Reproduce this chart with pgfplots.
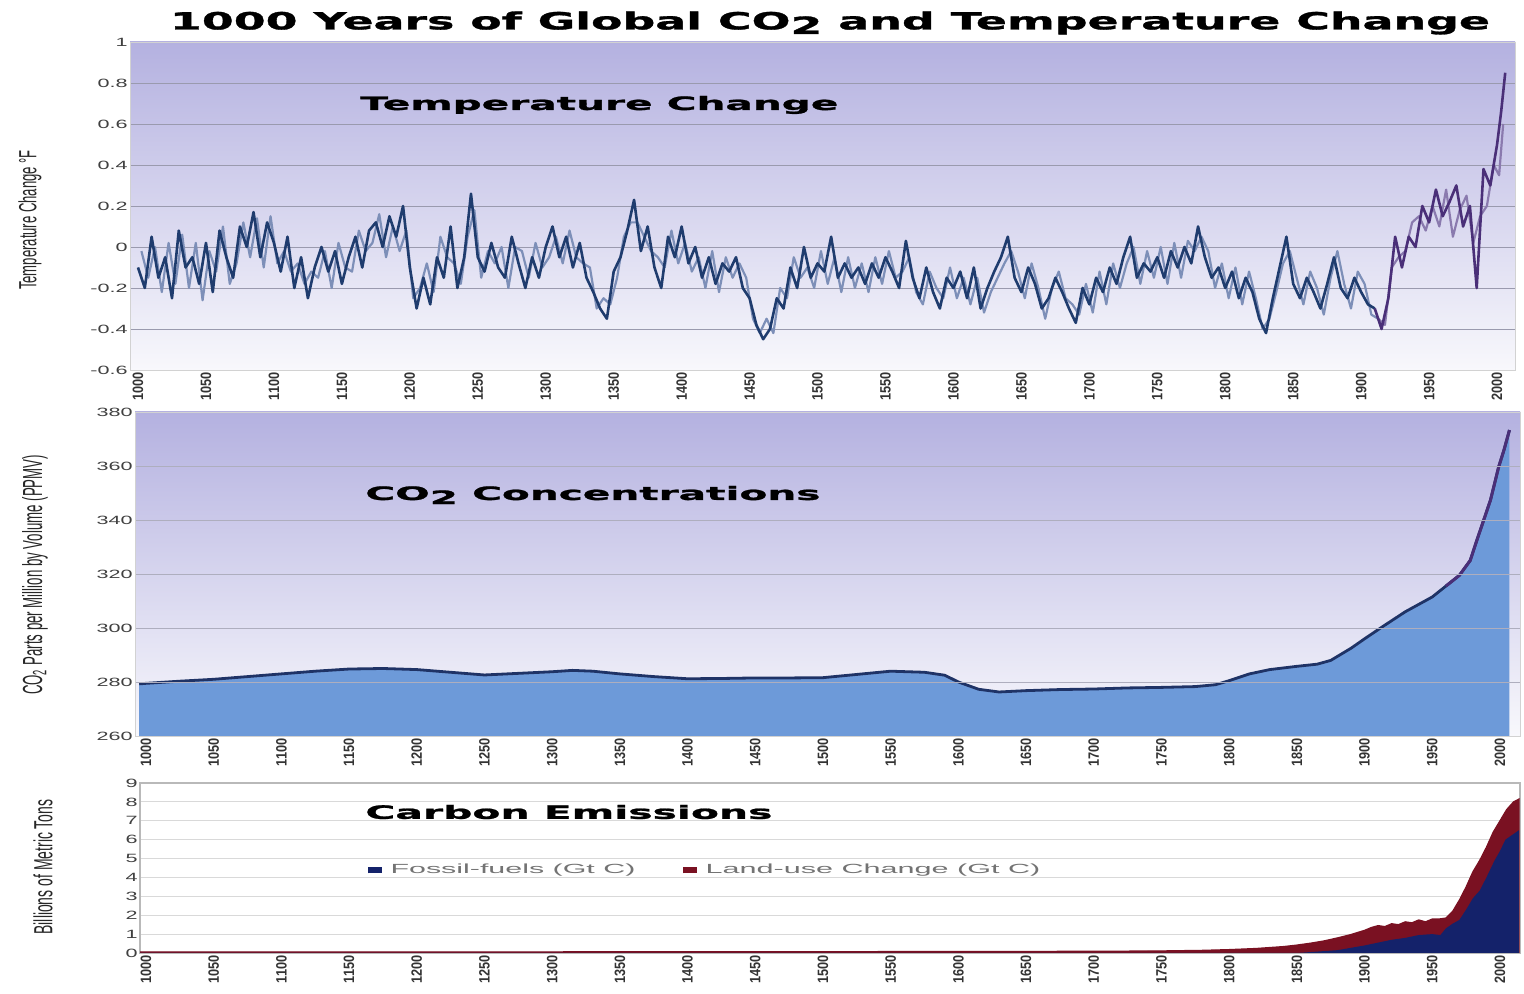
\documentclass[border=0pt]{standalone}
\usepackage{fontspec}
\setmainfont{Liberation Sans}
\newfontfamily\widefont{DejaVu Sans}[FakeStretch=1.5, BoldFeatures={FakeBold=1.2}]
\newfontfamily\condfont{Liberation Sans}[FakeStretch=0.85]
\newfontfamily\extfont{Liberation Sans}[FakeStretch=1.8]
\usepackage{graphicx}
\usepackage{pgfplots}
\pgfplotsset{compat=1.18}
\definecolor{tnavy}{HTML}{1F3C6E}
\definecolor{tlight}{HTML}{7D8FB8}
\definecolor{tpurple}{HTML}{4A2F78}
\definecolor{tlpurple}{HTML}{8A7AAE}
\definecolor{co2fill}{HTML}{6D9AD9}
\definecolor{co2line}{HTML}{1F3366}
\definecolor{fossil}{HTML}{14226A}
\definecolor{landuse}{HTML}{7A1122}
\definecolor{bgtop}{HTML}{B4B1E0}
\definecolor{bgmid}{HTML}{D3D1ED}
\definecolor{bgbot}{HTML}{F8F8FC}
\definecolor{gridc}{HTML}{9A9AAE}
\pgfplotstableread{
x y
1000 -0.10
1005 -0.20
1010 0.05
1015 -0.15
1020 -0.05
1025 -0.25
1030 0.08
1035 -0.10
1040 -0.05
1045 -0.18
1050 0.02
1055 -0.22
1060 0.08
1065 -0.05
1070 -0.15
1075 0.10
1080 0.00
1085 0.17
1090 -0.05
1095 0.12
1100 0.02
1105 -0.12
1110 0.05
1115 -0.20
1120 -0.05
1125 -0.25
1130 -0.10
1135 0.00
1140 -0.12
1145 -0.02
1150 -0.18
1155 -0.05
1160 0.05
1165 -0.10
1170 0.08
1175 0.12
1180 0.00
1185 0.15
1190 0.05
1195 0.20
1200 -0.10
1205 -0.30
1210 -0.15
1215 -0.28
1220 -0.05
1225 -0.15
1230 0.10
1235 -0.20
1240 -0.05
1245 0.26
1250 -0.05
1255 -0.12
1260 0.02
1265 -0.10
1270 -0.15
1275 0.05
1280 -0.08
1285 -0.20
1290 -0.05
1295 -0.15
1300 0.00
1305 0.10
1310 -0.05
1315 0.05
1320 -0.10
1325 0.02
1330 -0.15
1335 -0.22
1340 -0.30
1345 -0.35
1350 -0.12
1355 -0.05
1360 0.08
1365 0.23
1370 -0.02
1375 0.10
1380 -0.10
1385 -0.20
1390 0.05
1395 -0.05
1400 0.10
1405 -0.08
1410 0.00
1415 -0.15
1420 -0.05
1425 -0.18
1430 -0.08
1435 -0.12
1440 -0.05
1445 -0.20
1450 -0.25
1455 -0.38
1460 -0.45
1465 -0.40
1470 -0.25
1475 -0.30
1480 -0.10
1485 -0.20
1490 0.00
1495 -0.15
1500 -0.08
1505 -0.12
1510 0.05
1515 -0.15
1520 -0.08
1525 -0.15
1530 -0.10
1535 -0.18
1540 -0.08
1545 -0.15
1550 -0.05
1555 -0.12
1560 -0.20
1565 0.03
1570 -0.15
1575 -0.25
1580 -0.10
1585 -0.22
1590 -0.30
1595 -0.15
1600 -0.20
1605 -0.12
1610 -0.25
1615 -0.10
1620 -0.30
1625 -0.20
1630 -0.12
1635 -0.05
1640 0.05
1645 -0.15
1650 -0.22
1655 -0.10
1660 -0.18
1665 -0.30
1670 -0.25
1675 -0.15
1680 -0.22
1685 -0.30
1690 -0.37
1695 -0.20
1700 -0.28
1705 -0.15
1710 -0.22
1715 -0.10
1720 -0.18
1725 -0.05
1730 0.05
1735 -0.15
1740 -0.08
1745 -0.12
1750 -0.05
1755 -0.15
1760 -0.02
1765 -0.10
1770 0.00
1775 -0.08
1780 0.10
1785 -0.05
1790 -0.15
1795 -0.10
1800 -0.20
1805 -0.12
1810 -0.25
1815 -0.15
1820 -0.22
1825 -0.35
1830 -0.42
1835 -0.25
1840 -0.10
1845 0.05
1850 -0.18
1855 -0.25
1860 -0.15
1865 -0.22
1870 -0.30
1875 -0.18
1880 -0.05
1885 -0.20
1890 -0.25
1895 -0.15
1900 -0.22
1905 -0.28
1910 -0.30
}\tempA
\pgfplotstableread{
x y
1910 -0.30
1915 -0.40
1920 -0.25
1925 0.05
1930 -0.10
1935 0.05
1940 0.00
1945 0.20
1950 0.12
1955 0.28
1960 0.15
1965 0.22
1970 0.30
1975 0.10
1980 0.20
1985 -0.20
1990 0.38
1995 0.30
2000 0.50
2003 0.66
2006 0.85
}\tempB
\pgfplotstableread{
x y
1002.5 -0.02
1007.5 -0.15
1012.5 0.00
1017.5 -0.22
1022.5 0.02
1027.5 -0.18
1032.5 0.06
1037.5 -0.20
1042.5 0.02
1047.5 -0.26
1052.5 -0.02
1057.5 -0.12
1062.5 0.10
1067.5 -0.18
1072.5 -0.08
1077.5 0.12
1082.5 -0.05
1087.5 0.14
1092.5 -0.10
1097.5 0.15
1102.5 -0.08
1107.5 -0.02
1112.5 -0.12
1117.5 -0.08
1122.5 -0.18
1127.5 -0.12
1132.5 -0.15
1137.5 -0.02
1142.5 -0.20
1147.5 0.02
1152.5 -0.10
1157.5 -0.12
1162.5 0.08
1167.5 -0.02
1172.5 0.02
1177.5 0.16
1182.5 -0.05
1187.5 0.10
1192.5 -0.02
1197.5 0.08
1202.5 -0.25
1207.5 -0.20
1212.5 -0.08
1217.5 -0.22
1222.5 0.05
1227.5 -0.05
1232.5 -0.08
1237.5 -0.18
1242.5 0.05
1247.5 0.18
1252.5 -0.15
1257.5 -0.02
1262.5 -0.08
1267.5 0.00
1272.5 -0.20
1277.5 0.00
1282.5 -0.02
1287.5 -0.15
1292.5 0.02
1297.5 -0.10
1302.5 -0.05
1307.5 0.05
1312.5 -0.08
1317.5 0.08
1322.5 -0.05
1327.5 -0.08
1332.5 -0.10
1337.5 -0.30
1342.5 -0.25
1347.5 -0.28
1352.5 -0.15
1357.5 0.05
1362.5 0.12
1367.5 0.12
1372.5 0.05
1377.5 -0.02
1382.5 -0.05
1387.5 -0.10
1392.5 0.08
1397.5 -0.08
1402.5 0.02
1407.5 -0.12
1412.5 -0.05
1417.5 -0.20
1422.5 -0.02
1427.5 -0.22
1432.5 -0.05
1437.5 -0.15
1442.5 -0.08
1447.5 -0.15
1452.5 -0.35
1457.5 -0.42
1462.5 -0.35
1467.5 -0.42
1472.5 -0.20
1477.5 -0.25
1482.5 -0.05
1487.5 -0.15
1492.5 -0.10
1497.5 -0.20
1502.5 -0.02
1507.5 -0.18
1512.5 -0.05
1517.5 -0.22
1522.5 -0.05
1527.5 -0.20
1532.5 -0.08
1537.5 -0.22
1542.5 -0.05
1547.5 -0.18
1552.5 -0.02
1557.5 -0.15
1562.5 -0.12
1567.5 -0.05
1572.5 -0.22
1577.5 -0.28
1582.5 -0.12
1587.5 -0.20
1592.5 -0.25
1597.5 -0.10
1602.5 -0.25
1607.5 -0.15
1612.5 -0.28
1617.5 -0.15
1622.5 -0.32
1627.5 -0.22
1632.5 -0.15
1637.5 -0.08
1642.5 -0.02
1647.5 -0.12
1652.5 -0.25
1657.5 -0.08
1662.5 -0.20
1667.5 -0.35
1672.5 -0.20
1677.5 -0.12
1682.5 -0.25
1687.5 -0.28
1692.5 -0.33
1697.5 -0.18
1702.5 -0.32
1707.5 -0.12
1712.5 -0.28
1717.5 -0.08
1722.5 -0.20
1727.5 -0.08
1732.5 0.00
1737.5 -0.18
1742.5 -0.02
1747.5 -0.15
1752.5 0.00
1757.5 -0.18
1762.5 0.02
1767.5 -0.15
1772.5 0.03
1777.5 -0.02
1782.5 0.05
1787.5 -0.02
1792.5 -0.20
1797.5 -0.08
1802.5 -0.25
1807.5 -0.10
1812.5 -0.28
1817.5 -0.12
1822.5 -0.25
1827.5 -0.40
1832.5 -0.35
1837.5 -0.22
1842.5 -0.08
1847.5 -0.02
1852.5 -0.15
1857.5 -0.28
1862.5 -0.12
1867.5 -0.20
1872.5 -0.33
1877.5 -0.15
1882.5 -0.02
1887.5 -0.18
1892.5 -0.30
1897.5 -0.12
1902.5 -0.18
1907.5 -0.33
1912.5 -0.35
}\tempLA
\pgfplotstableread{
x y
1912.5 -0.35
1917.5 -0.38
1922.5 -0.10
1927.5 -0.05
1932.5 -0.02
1937.5 0.12
1942.5 0.15
1947.5 0.08
1952.5 0.20
1957.5 0.10
1962.5 0.28
1967.5 0.05
1972.5 0.18
1977.5 0.25
1982.5 0.02
1987.5 0.15
1992.5 0.20
1997.5 0.40
2001.5 0.35
2004.5 0.60
}\tempLB
\pgfplotstableread{
x y
995 279.3
1000 279.5
1025 280.3
1050 281.0
1075 282.0
1100 283.0
1125 284.0
1150 284.8
1175 285.0
1200 284.6
1225 283.6
1250 282.6
1275 283.2
1300 283.8
1315 284.3
1330 284.0
1350 283.0
1375 282.0
1400 281.2
1425 281.3
1450 281.5
1475 281.5
1500 281.6
1525 282.8
1550 284.0
1575 283.6
1590 282.5
1600 280.0
1615 277.3
1630 276.3
1650 276.8
1675 277.2
1700 277.4
1725 277.8
1750 278.0
1775 278.3
1790 279.0
1800 280.5
1815 283.0
1830 284.6
1850 285.8
1865 286.6
1875 288.0
1890 292.5
1900 296.0
1913 300.4
1930 306.0
1950 311.5
1960 315.5
1970 319.5
1978 325.0
1983 332.6
1988 340.0
1993 347.4
1999 359.6
2003 366.0
2007 373.3
}\cotwo
\pgfplotstableread{
x y
1960 315.5
1970 319.5
1978 325.0
1983 332.6
1988 340.0
1993 347.4
1999 359.6
2003 366.0
2007 373.3
}\cotwoB
\pgfplotstableread{
x y
995 0.06
1100 0.06
1200 0.06
1300 0.06
1400 0.07
1500 0.07
1600 0.08
1700 0.09
1750 0.11
1780 0.14
1800 0.18
1820 0.24
1840 0.34
1850 0.42
1860 0.52
1870 0.64
1880 0.80
1890 0.98
1900 1.20
1905 1.35
1910 1.45
1915 1.40
1920 1.55
1925 1.50
1930 1.65
1935 1.60
1940 1.75
1945 1.65
1950 1.80
1955 1.80
1960 1.85
1965 2.20
1970 2.80
1975 3.50
1980 4.30
1985 4.90
1990 5.60
1995 6.40
2000 7.00
2005 7.60
2010 8.00
2014 8.15
}\total
\pgfplotstableread{
x y
995 0.0
1850 0.0
1860 0.05
1880 0.15
1900 0.40
1910 0.55
1920 0.70
1930 0.80
1940 0.95
1950 1.00
1956 0.95
1960 1.30
1965 1.55
1970 1.75
1975 2.30
1980 2.90
1985 3.30
1990 4.00
1996 4.90
2000 5.40
2004 6.00
2010 6.30
2014 6.50
}\fossilT
\pgfplotsset{
  panel/.style={
    scale only axis,
    xtick={1000,1050,...,2000},
    xticklabels={1000,1050,1100,1150,1200,1250,1300,1350,1400,1450,1500,1550,1600,1650,1700,1750,1800,1850,1900,1950,2000},
    xticklabel style={rotate=90, anchor=east, inner sep=1pt, font=\condfont\bfseries\fontsize{7.5pt}{8pt}\selectfont, text=black!80},
    yticklabel style={font=\extfont\fontsize{6pt}{7pt}\selectfont, text=black!75, inner sep=1pt},
    major tick length=0pt,
    ymajorgrids,
    major grid style={gridc, line width=0.4pt},
    axis line style={draw=gray!35, line width=0.4pt},
  }
}
\begin{document}
\begin{tikzpicture}
\path[use as bounding box] (0,0) rectangle (762pt,497pt);
% Panel 1
\begin{axis}[panel, at={(65pt,312pt)}, anchor=south west, width=692.5pt, height=164pt,
  xmin=994.1, xmax=2013.2, ymin=-0.6, ymax=1,
  ytick={-0.6,-0.4,-0.2,0,0.2,0.4,0.6,0.8,1},
  yticklabels={-0.6,-0.4,-0.2,0,0.2,0.4,0.6,0.8,1},
  axis background/.style={shade, top color=bgtop, middle color=bgmid, bottom color=bgbot}]
\addplot[tlight, line width=1.1pt, line join=round] table {\tempLA};
\addplot[tlpurple, line width=1.1pt, line join=round] table {\tempLB};
\addplot[tnavy, line width=1.3pt, line join=round] table {\tempA};
\addplot[tpurple, line width=1.3pt, line join=round] table {\tempB};
\end{axis}
% Panel 2
\begin{axis}[panel, at={(67.5pt,129pt)}, anchor=south west, width=692.5pt, height=162pt,
  xmin=991.9, xmax=2014.8, ymin=260, ymax=380, axis on top,
  ytick={260,280,300,320,340,360,380},
  yticklabels={260,280,300,320,340,360,380},
  major grid style={gridc!80, line width=0.4pt},
  axis background/.style={shade, top color=bgtop, middle color=bgmid!80!white, bottom color=bgbot}]
\addplot[draw=none, fill=co2fill] table {\cotwo} \closedcycle;
\addplot[co2line, line width=1.4pt] table {\cotwo};
\addplot[tpurple, line width=1.5pt] table {\cotwoB};
\end{axis}
% Panel 3
\begin{axis}[panel, at={(70pt,20.5pt)}, anchor=south west, width=690pt, height=85pt,
  xmin=995.6, xmax=2014.8, ymin=0, ymax=9,
  ytick={0,1,...,9},
  yticklabels={0,1,2,3,4,5,6,7,8,9},
  major grid style={gray!30, line width=0.5pt},
  axis line style={draw=gray!55, line width=0.6pt}]
\addplot[draw=landuse, fill=landuse, line width=0.6pt] table {\total} \closedcycle;
\addplot[draw=none, fill=fossil] table {\fossilT} \closedcycle;
\end{axis}
% Texts
\node at (415pt,485.5pt) {\resizebox{660pt}{9pt}{\widefont\bfseries 1000 Years of Global CO\raisebox{-0.35ex}{2} and Temperature Change}};
\node[anchor=west, inner sep=0pt] at (180pt,444.5pt) {\resizebox{239pt}{7pt}{\widefont\bfseries Temperature Change}};
\node[anchor=west, inner sep=0pt] at (182.5pt,249.5pt) {\resizebox{227.5pt}{7pt}{\widefont\bfseries CO\raisebox{-0.4ex}{2} Concentrations}};
\node[anchor=west, inner sep=0pt] at (182.5pt,91pt) {\resizebox{203.5pt}{7pt}{\widefont\bfseries Carbon Emissions}};
\node[anchor=west, inner sep=0pt, text=black!55] at (184pt,62pt) {\resizebox{133.5pt}{4.8pt}{{\color{fossil}\rule{0.45em}{0.45em}} Fossil-fuels (Gt C)}};
\node[anchor=west, inner sep=0pt, text=black!55] at (341.5pt,62pt) {\resizebox{178.5pt}{4.8pt}{{\color{landuse}\rule{0.45em}{0.45em}} Land-use Change (Gt C)}};
\node[rotate=90, inner sep=0pt, text=black!85] at (15pt,387pt) {\resizebox{70pt}{9pt}{\condfont Temperature Change \textdegree F}};
\node[rotate=90, inner sep=0pt, text=black!85] at (17.5pt,209.5pt) {\resizebox{120pt}{10pt}{\condfont CO\textsubscript{2} Parts per Million by Volume (PPMV)}};
\node[rotate=90, inner sep=0pt, text=black!85] at (21.5pt,63.5pt) {\resizebox{67.5pt}{9.5pt}{\condfont Billions of Metric Tons}};
\end{tikzpicture}
\end{document}
